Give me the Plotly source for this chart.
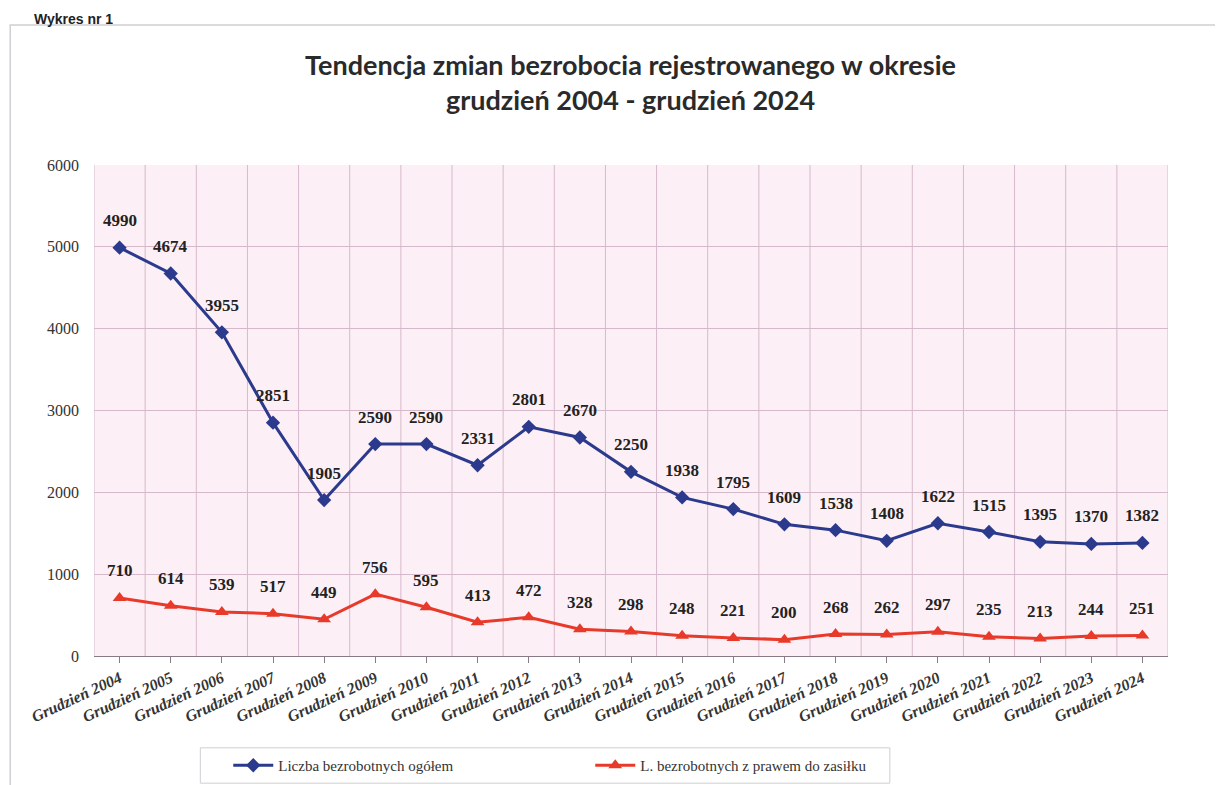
import plotly.graph_objects as go

# dane
lata = [str(r) for r in range(2004, 2025)]
kategorie = [f"Grudzień {r}" for r in lata]
ogolem = [4990, 4674, 3955, 2851, 1905, 2590, 2590, 2331, 2801, 2670, 2250,
          1938, 1795, 1609, 1538, 1408, 1622, 1515, 1395, 1370, 1382]
z_prawem = [710, 614, 539, 517, 449, 756, 595, 413, 472, 328, 298,
            248, 221, 200, 268, 262, 297, 235, 213, 244, 251]
y_ticks = [0, 1000, 2000, 3000, 4000, 5000, 6000]

niebieski = "#2B3A8C"
czerwony = "#E83A2A"
serif = "Liberation Serif, Times New Roman, serif"

fig = go.Figure()
fig.add_trace(go.Scatter(
    x=kategorie, y=ogolem, name="Liczba bezrobotnych ogółem",
    mode="lines+markers",
    line=dict(color=niebieski, width=3),
    marker=dict(symbol="diamond", size=11, color=niebieski),
))
fig.add_trace(go.Scatter(
    x=kategorie, y=z_prawem, name="L. bezrobotnych z prawem do zasiłku",
    mode="lines+markers",
    line=dict(color=czerwony, width=3),
    marker=dict(symbol="triangle-up", size=12, color=czerwony),
))

# etykiety wartości
for seria in (ogolem, z_prawem):
    for k, v in zip(kategorie, seria):
        fig.add_annotation(x=k, y=v, text=f"<b>{v}</b>", showarrow=False,
                           yshift=27, font=dict(family=serif, size=17, color="#222"))

# ramka wykresu, ramka legendy i nagłówek dokumentu
fig.add_shape(type="rect", xref="paper", yref="paper",
              x0=-0.078, x1=1.07, y0=-0.4, y1=1.285,
              line=dict(color="#cfcfd4", width=1.5), fillcolor="rgba(0,0,0,0)",
              layer="below")
fig.add_shape(type="rect", xref="paper", yref="paper",
              x0=0.099, x1=0.741, y0=-0.259, y1=-0.187,
              line=dict(color="#cfcfd4", width=1), fillcolor="white",
              layer="below")
fig.add_annotation(xref="paper", yref="paper", x=-0.058, y=1.318, xanchor="left",
                   yanchor="top", showarrow=False,
                   text="<b>Wykres nr 1</b>",
                   font=dict(family="Liberation Sans, Arial", size=14, color="#222"))

fig.update_layout(
    width=1223, height=785,
    margin=dict(l=86, r=63, t=157, b=137, autoexpand=False),
    paper_bgcolor="white",
    plot_bgcolor="#fcf0f6",
    title=dict(
        text="Tendencja zmian bezrobocia rejestrowanego w okresie<br>grudzień 2004 - grudzień 2024",
        x=0.509, xanchor="center", y=0.915, yanchor="middle",
        font=dict(family="Lato, sans-serif", size=27, color="#2a2a2a", weight="bold"),
    ),
    xaxis=dict(
        range=[-0.5, len(kategorie) - 0.5],
        showgrid=False, ticks="outside", ticklen=6, tickcolor="#8a7a88",
        tickangle=-25, showline=True, linecolor="#8a7a88",
        tickfont=dict(family=serif, size=16, color="#333", weight="bold", style="italic"),
    ),
    yaxis=dict(
        range=[0, 6000], tickvals=y_ticks, showgrid=True, gridcolor="#d6b8cb",
        gridwidth=1, zeroline=False, ticks="", showline=False,
        ticklabelstandoff=14,
        tickfont=dict(family=serif, size=16, color="#333"),
    ),
    legend=dict(
        orientation="h", x=0.125, xanchor="left", y=-0.223, yanchor="middle",
        borderwidth=0, bgcolor="rgba(0,0,0,0)",
        font=dict(family=serif, size=15, color="#333"),
        itemwidth=40, entrywidth=307,
    ),
)

# pionowe linie siatki na granicach kategorii
for i in range(len(kategorie) + 1):
    fig.add_shape(type="line", xref="x", yref="paper",
                  x0=i - 0.5, x1=i - 0.5, y0=0, y1=1,
                  line=dict(color="#d6b8cb", width=1), layer="below")

fig.write_html("out.html")
